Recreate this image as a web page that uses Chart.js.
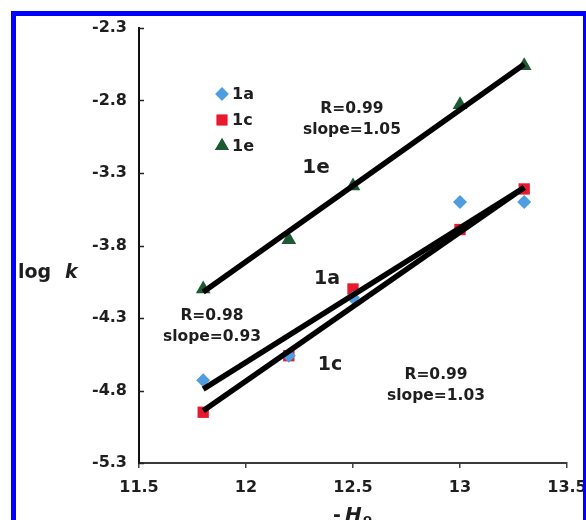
<!DOCTYPE html>
<html>
<head>
<meta charset="utf-8">
<script src="https://cdn.jsdelivr.net/npm/chart.js@4"></script>
<style>
  html, body { margin: 0; padding: 0; background: #fff; overflow: hidden; }
  #wrap { position: relative; width: 586px; height: 520px; }
  #frame { position: absolute; left: 11px; top: 11px; width: 567px; height: 600px;
           border: 5px solid #0000ff; border-bottom: none; box-sizing: content-box; pointer-events: none; }
  canvas { position: absolute; left: 0; top: 0; }
</style>
</head>
<body>
<div id="wrap">
  <canvas id="c" width="586" height="520"></canvas>
  <div id="frame"></div>
</div>
<script>
// ---- data ----
const seriesNames = ['1a', '1c', '1e'];
const xValues = [11.8, 12.2, 12.5, 13.0, 13.3];
const y1a = [-4.73, -4.56, -4.16, -3.50, -3.50];
const y1c = [-4.95, -4.56, -4.10, -3.69, -3.41];
const y1e = [-4.10, -3.76, -3.39, -2.83, -2.56];
const fitX = [11.8, 13.3];
const fit1a = [-4.79, -3.40];
const fit1c = [-4.94, -3.40];
const fit1e = [-4.12, -2.55];
const xTicks = [11.5, 12, 12.5, 13, 13.5];
const xTickLabels = ['11.5', '12', '12.5', '13', '13.5'];
const yTicks = [-5.3, -4.8, -4.3, -3.8, -3.3, -2.8, -2.3];
const yTickLabels = ['-5.3', '-4.8', '-4.3', '-3.8', '-3.3', '-2.8', '-2.3'];
const noteTexts = [['R=0.99', 'slope=1.05'], ['1e'], ['R=0.98', 'slope=0.93'], ['1a'], ['1c'], ['R=0.99', 'slope=1.03']];
const noteX = [12.495, 12.327, 11.841, 12.379, 12.393, 12.888];
const noteY = [-2.86, -3.266, -4.286, -4.031, -4.624, -4.693];

// ---- styles ----
const FONT = '"DejaVu Sans", sans-serif';
const colors = { '1a': '#4d9de0', '1c': '#e8192c', '1e': '#1d5a34' };
const styles = { '1a': 'rectRot', '1c': 'rect', '1e': 'triangle' };
const radii = { '1a': 7, '1c': 8, '1e': 8.5 };
const noteSizes = [15.5, 20, 15.5, 19, 19, 15.5];

const pts = (xs, ys) => xs.map((x, i) => ({ x: x, y: ys[i] }));
const pointSets = { '1a': y1a, '1c': y1c, '1e': y1e };
const fitSets = { '1a': fit1a, '1c': fit1c, '1e': fit1e };

const datasets = [];
seriesNames.forEach(n => {
  datasets.push({
    label: 'fit ' + n, data: pts(fitX, fitSets[n]), showLine: true,
    borderColor: '#000', borderWidth: 5.5, pointRadius: 0, order: 0, borderCapStyle: 'butt'
  });
});
seriesNames.forEach(n => {
  datasets.push({
    label: n, data: pts(xValues, pointSets[n]), showLine: false,
    pointStyle: styles[n], pointRadius: radii[n], pointBackgroundColor: colors[n],
    pointBorderColor: colors[n], pointBorderWidth: 0, order: 1, isSeries: true
  });
});

const decorPlugin = {
  id: 'decor',
  afterDraw(chart) {
    const ctx = chart.ctx;
    const xs = chart.scales.x, ys = chart.scales.y;
    const area = chart.chartArea;
    ctx.save();
    // inside y ticks
    ctx.strokeStyle = '#222';
    ctx.lineWidth = 1.5;
    yTicks.forEach(v => {
      const py = Math.round(ys.getPixelForValue(v)) + 0.5;
      ctx.beginPath(); ctx.moveTo(area.left, py); ctx.lineTo(area.left + 5, py); ctx.stroke();
    });
    // annotations
    ctx.fillStyle = '#1e1e1e';
    ctx.textAlign = 'center';
    ctx.textBaseline = 'middle';
    noteTexts.forEach((lines, i) => {
      const px = xs.getPixelForValue(noteX[i]);
      const py = ys.getPixelForValue(noteY[i]);
      ctx.font = 'bold ' + noteSizes[i] + 'px ' + FONT;
      lines.forEach((t, j) => ctx.fillText(t, px, py + j * 21));
    });
    // legend
    const legX = 222, legY0 = 94, legStep = 26;
    chart.data.datasets.filter(d => d.isSeries).forEach((d, i) => {
      const y = legY0 + i * legStep;
      ctx.fillStyle = d.pointBackgroundColor;
      Chart.helpers.drawPoint(ctx, { pointStyle: d.pointStyle, radius: d.pointRadius * 0.95, borderWidth: 0 }, legX, y);
      ctx.fill();
      ctx.fillStyle = '#1e1e1e';
      ctx.font = 'bold 16px ' + FONT;
      ctx.textAlign = 'left';
      ctx.fillText(d.label, legX + 10, y + 1);
    });
    // y axis title: log k
    ctx.fillStyle = '#1e1e1e';
    ctx.textAlign = 'left';
    ctx.textBaseline = 'alphabetic';
    ctx.font = 'bold 19px ' + FONT;
    ctx.fillText('log', 18, 278);
    ctx.font = 'italic bold 19px ' + FONT;
    ctx.fillText('k', 65, 278);
    // x axis title: - Ho
    ctx.font = 'bold 19px ' + FONT;
    ctx.fillText('-', 333, 521);
    ctx.font = 'italic bold 20px ' + FONT;
    ctx.fillText('H', 345, 521);
    ctx.font = 'bold 13px ' + FONT;
    ctx.fillText('o', 363, 523);
    ctx.restore();
  }
};

new Chart(document.getElementById('c'), {
  type: 'scatter',
  data: { datasets: datasets },
  options: {
    responsive: false,
    animation: false,
    devicePixelRatio: 1,
    layout: { padding: { left: 0, top: 28, right: 19, bottom: 0 } },
    plugins: { legend: { display: false }, tooltip: { enabled: false } },
    scales: {
      x: {
        type: 'linear', min: 11.5, max: 13.5,
        afterBuildTicks: s => { s.ticks = xTicks.map(v => ({ value: v })); },
        afterFit: s => { s.height = 520 - 463; s.paddingLeft = 0; s.paddingRight = 0; },
        grid: { drawOnChartArea: false, drawTicks: true, tickLength: 5, tickColor: '#444', lineWidth: 1.5 },
        border: { color: '#3a3a3a', width: 2 },
        ticks: {
          padding: 10, color: '#1e1e1e', font: { family: FONT, size: 16, weight: 'bold' },
          maxRotation: 0, autoSkip: false,
          callback: (v) => { const i = xTicks.indexOf(v); return i >= 0 ? xTickLabels[i] : ''; }
        }
      },
      y: {
        type: 'linear', min: -5.3, max: -2.3,
        afterBuildTicks: s => { s.ticks = yTicks.map(v => ({ value: v })); },
        afterFit: s => { s.width = 139; s.paddingTop = 0; s.paddingBottom = 0; },
        grid: { drawOnChartArea: false, drawTicks: false },
        border: { color: '#111', width: 2 },
        ticks: {
          padding: 12, color: '#1e1e1e', font: { family: FONT, size: 16, weight: 'bold' },
          autoSkip: false,
          callback: (v) => { const i = yTicks.findIndex(t => Math.abs(t - v) < 1e-9); return i >= 0 ? yTickLabels[i] : ''; }
        }
      }
    }
  },
  plugins: [decorPlugin]
});
</script>
</body>
</html>
